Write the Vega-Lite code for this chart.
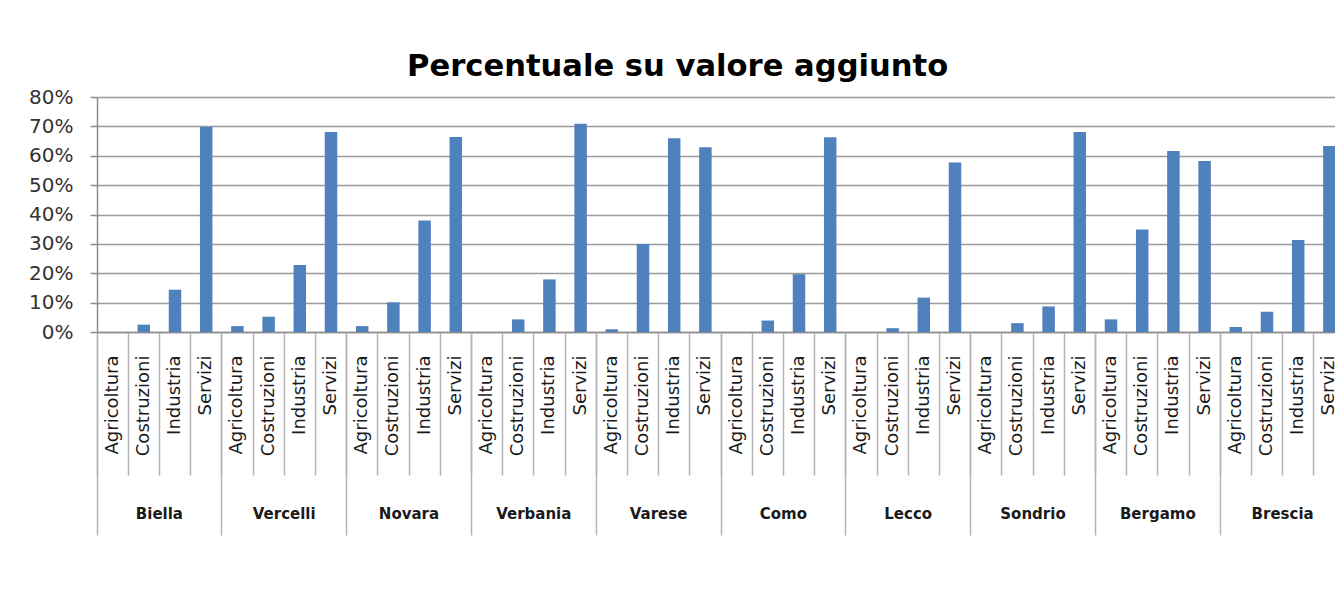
{
  "$schema": "https://vega.github.io/schema/vega-lite/v6.json",
  "autosize": {"type": "none"},
  "padding": {"left": 97, "top": 97, "right": 0, "bottom": 260},
  "width": 1238,
  "height": 235,
  "background": "white",
  "title": {
    "text": "Percentuale su valore aggiunto",
    "font": "DejaVu Sans",
    "fontSize": 30.6,
    "fontWeight": "bold",
    "color": "#000000",
    "anchor": "start",
    "frame": "group",
    "dx": 310,
    "baseline": "alphabetic",
    "offset": -20
  },
  "data": {
    "values": [
      {"key": "Biella|Agricoltura", "province": "Biella", "sector": "Agricoltura", "value": 0},
      {"key": "Biella|Costruzioni", "province": "Biella", "sector": "Costruzioni", "value": 0.025},
      {"key": "Biella|Industria", "province": "Biella", "sector": "Industria", "value": 0.144},
      {"key": "Biella|Servizi", "province": "Biella", "sector": "Servizi", "value": 0.698},
      {"key": "Vercelli|Agricoltura", "province": "Vercelli", "sector": "Agricoltura", "value": 0.02},
      {"key": "Vercelli|Costruzioni", "province": "Vercelli", "sector": "Costruzioni", "value": 0.052},
      {"key": "Vercelli|Industria", "province": "Vercelli", "sector": "Industria", "value": 0.228},
      {"key": "Vercelli|Servizi", "province": "Vercelli", "sector": "Servizi", "value": 0.681},
      {"key": "Novara|Agricoltura", "province": "Novara", "sector": "Agricoltura", "value": 0.02},
      {"key": "Novara|Costruzioni", "province": "Novara", "sector": "Costruzioni", "value": 0.101},
      {"key": "Novara|Industria", "province": "Novara", "sector": "Industria", "value": 0.38},
      {"key": "Novara|Servizi", "province": "Novara", "sector": "Servizi", "value": 0.664},
      {"key": "Verbania|Agricoltura", "province": "Verbania", "sector": "Agricoltura", "value": 0},
      {"key": "Verbania|Costruzioni", "province": "Verbania", "sector": "Costruzioni", "value": 0.043},
      {"key": "Verbania|Industria", "province": "Verbania", "sector": "Industria", "value": 0.179},
      {"key": "Verbania|Servizi", "province": "Verbania", "sector": "Servizi", "value": 0.709},
      {"key": "Varese|Agricoltura", "province": "Varese", "sector": "Agricoltura", "value": 0.009},
      {"key": "Varese|Costruzioni", "province": "Varese", "sector": "Costruzioni", "value": 0.3},
      {"key": "Varese|Industria", "province": "Varese", "sector": "Industria", "value": 0.66},
      {"key": "Varese|Servizi", "province": "Varese", "sector": "Servizi", "value": 0.629},
      {"key": "Como|Agricoltura", "province": "Como", "sector": "Agricoltura", "value": 0},
      {"key": "Como|Costruzioni", "province": "Como", "sector": "Costruzioni", "value": 0.039},
      {"key": "Como|Industria", "province": "Como", "sector": "Industria", "value": 0.197},
      {"key": "Como|Servizi", "province": "Como", "sector": "Servizi", "value": 0.663},
      {"key": "Lecco|Agricoltura", "province": "Lecco", "sector": "Agricoltura", "value": 0},
      {"key": "Lecco|Costruzioni", "province": "Lecco", "sector": "Costruzioni", "value": 0.013},
      {"key": "Lecco|Industria", "province": "Lecco", "sector": "Industria", "value": 0.117},
      {"key": "Lecco|Servizi", "province": "Lecco", "sector": "Servizi", "value": 0.577},
      {"key": "Sondrio|Agricoltura", "province": "Sondrio", "sector": "Agricoltura", "value": 0},
      {"key": "Sondrio|Costruzioni", "province": "Sondrio", "sector": "Costruzioni", "value": 0.03},
      {"key": "Sondrio|Industria", "province": "Sondrio", "sector": "Industria", "value": 0.087},
      {"key": "Sondrio|Servizi", "province": "Sondrio", "sector": "Servizi", "value": 0.681},
      {"key": "Bergamo|Agricoltura", "province": "Bergamo", "sector": "Agricoltura", "value": 0.043},
      {"key": "Bergamo|Costruzioni", "province": "Bergamo", "sector": "Costruzioni", "value": 0.349},
      {"key": "Bergamo|Industria", "province": "Bergamo", "sector": "Industria", "value": 0.616},
      {"key": "Bergamo|Servizi", "province": "Bergamo", "sector": "Servizi", "value": 0.582},
      {"key": "Brescia|Agricoltura", "province": "Brescia", "sector": "Agricoltura", "value": 0.017},
      {"key": "Brescia|Costruzioni", "province": "Brescia", "sector": "Costruzioni", "value": 0.069},
      {"key": "Brescia|Industria", "province": "Brescia", "sector": "Industria", "value": 0.313},
      {"key": "Brescia|Servizi", "province": "Brescia", "sector": "Servizi", "value": 0.633}
    ]
  },
  "layer": [
    {
      "mark": {"type": "bar", "color": "#4F81BD", "width": {"band": 0.4}},
      "encoding": {
        "x": {
          "field": "key",
          "type": "nominal",
          "sort": null,
          "scale": {"range": [0, 1248], "paddingInner": 0, "paddingOuter": 0},
          "axis": {
            "orient": "bottom",
            "title": null,
            "bandPosition": 0,
            "labelExpr": "split(datum.value, '|')[1]",
            "labelAngle": -90,
            "labelAlign": "right",
            "labelBaseline": "middle",
            "labelOffset": 0,
            "labelPadding": -120,
            "labelOverlap": false,
            "labelBound": false,
            "labelFlush": false,
            "labelFont": "DejaVu Sans",
            "labelFontSize": 18,
            "labelColor": "#1a1a1a",
            "tickSize": 143,
            "tickColor": "#b4b4b4",
            "tickWidth": 1.5,
            "domain": true,
            "domainColor": "#8c8c8c",
            "domainWidth": 1.5,
            "grid": false
          }
        },
        "y": {
          "field": "value",
          "type": "quantitative",
          "scale": {"domain": [0, 0.8], "nice": false},
          "axis": {
            "title": null,
            "values": [0, 0.1, 0.2, 0.3, 0.4, 0.5, 0.6, 0.7, 0.8],
            "format": ".0%",
            "labelFont": "DejaVu Sans",
            "labelFontSize": 20,
            "labelColor": "#333333",
            "labelPadding": 17,
            "tickSize": 7,
            "tickColor": "#8c8c8c",
            "tickWidth": 1.5,
            "domain": true,
            "domainColor": "#8c8c8c",
            "domainWidth": 1.5,
            "grid": true,
            "gridColor": "#9a9a9a",
            "gridWidth": 1.5
          }
        }
      }
    },
    {
      "mark": {"type": "rule", "opacity": 0},
      "encoding": {
        "x": {
          "field": "key",
          "type": "nominal",
          "sort": null,
          "axis": {
            "orient": "bottom",
            "title": null,
            "bandPosition": 0,
            "values": ["Biella|Agricoltura", "Vercelli|Agricoltura", "Novara|Agricoltura", "Verbania|Agricoltura", "Varese|Agricoltura", "Como|Agricoltura", "Lecco|Agricoltura", "Sondrio|Agricoltura", "Bergamo|Agricoltura", "Brescia|Agricoltura"],
            "labelExpr": "split(datum.value, '|')[0]",
            "labelAngle": 0,
            "labelAlign": "center",
            "labelBaseline": "middle",
            "labelOffset": 46.8,
            "labelPadding": -22,
            "labelOverlap": false,
            "labelBound": false,
            "labelFlush": false,
            "labelFont": "DejaVu Sans",
            "labelFontSize": 15,
            "labelFontWeight": "bold",
            "labelColor": "#1a1a1a",
            "tickSize": 203,
            "tickColor": "#b4b4b4",
            "tickWidth": 1.5,
            "domain": false,
            "grid": false
          }
        }
      }
    }
  ],
  "resolve": {"axis": {"x": "independent"}},
  "config": {"view": {"stroke": null}}
}
